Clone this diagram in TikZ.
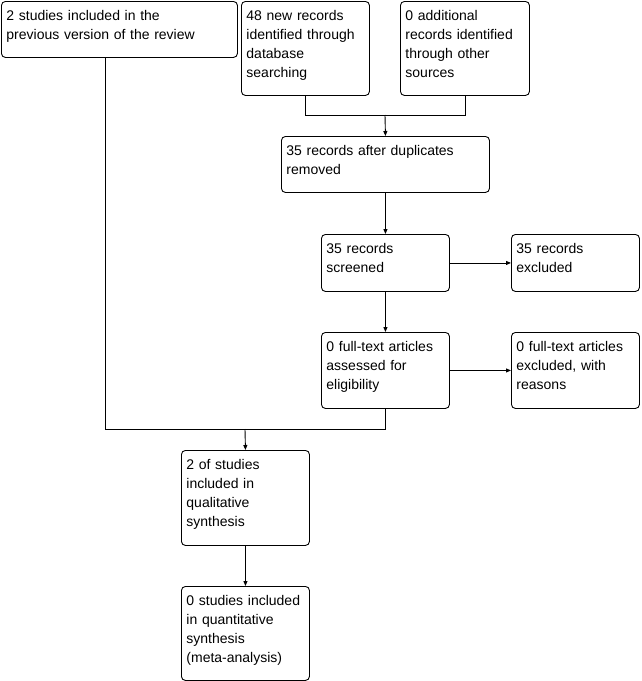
\documentclass[tikz,border=0pt]{standalone}
\usepackage{fontspec}
\setmainfont{Liberation Sans}
\usetikzlibrary{arrows.meta}

\begin{document}
\begin{tikzpicture}[
    x=1pt, y=-1pt,
    box/.style={draw, rounded corners=4pt, anchor=north west, align=left, inner xsep=5pt, inner ysep=5.7pt, text height=13.3pt, font=\fontsize{14}{19}\selectfont},
    >={Triangle[length=5pt,width=4pt]}, line width=0.9pt
]
  \useasboundingbox (0,0) rectangle (642,681);

  \node[box, text width=226pt, text depth=31.3pt] (prev) at (1,1) {2 studies included in the\\previous version of the review};
  \node[box, text width=118pt, text depth=69.3pt] (db) at (241,1) {48 new records\\identified through\\database\\searching};
  \node[box, text width=119pt, text depth=69.3pt] (other) at (400,1) {0 additional\\records identified\\through other\\sources};
  \node[box, text width=198pt, text depth=31.3pt] (dup) at (281,136) {35 records after duplicates\\removed};
  \node[box, text width=118pt, text depth=32.3pt] (screen) at (321,234) {35 records\\screened};
  \node[box, text width=118pt, text depth=32.3pt] (excl) at (511,234) {35 records\\excluded};
  \node[box, text width=118pt, text depth=51.3pt] (full) at (321,332) {0 full-text articles\\assessed for\\eligibility};
  \node[box, text width=118pt, text depth=51.3pt] (fullex) at (511,332) {0 full-text articles\\excluded, with\\reasons};
  \node[box, text width=118pt, text depth=70.3pt] (qual) at (181,450) {2 of studies\\included in\\qualitative\\synthesis};
  \node[box, text width=118pt, text depth=69.3pt] (quant) at (181,586) {0 studies included\\in quantitative\\synthesis\\(meta-analysis)};

  % joins
  \coordinate (join1) at (385,115);
  \coordinate (join2) at (245,429);

  \draw (db.south) |- (join1);
  \draw (other.south) |- (join1);
  \draw[->] (join1) -- (dup.north);
  \draw[->] (dup.south) -- (screen.north);
  \draw[->] (screen) -- (excl);
  \draw[->] (screen.south) -- (full.north);
  \draw[->] (full) -- (fullex);
  \draw (prev.south west) ++(104,0) |- (join2);
  \draw (full.south) |- (join2);
  \draw[->] (join2) -- (qual.north);
  \draw[->] (qual.south) -- (quant.north);
\end{tikzpicture}
\end{document}
